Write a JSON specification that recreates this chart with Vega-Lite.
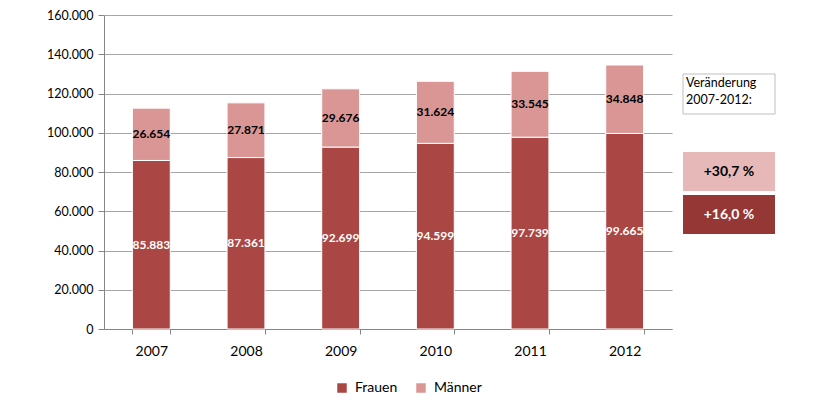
{
  "$schema": "https://vega.github.io/schema/vega-lite/v6.json",
  "padding": {"left": 46, "top": 9, "right": 5, "bottom": 5},
  "bounds": "flush",
  "spacing": 11,
  "config": {
    "locale": {"number": {"decimal": ",", "thousands": ".", "grouping": [3], "currency": ["", " €"]}},
    "view": {"stroke": null},
    "font": "Lato",
    "axis": {"labelColor": "black", "titleColor": "black"}
  },
  "hconcat": [
    {
      "width": 568,
      "height": 314,
      "data": {
        "values": [
          {"year": "2007", "gender": "Frauen", "value": 85883},
          {"year": "2007", "gender": "Männer", "value": 26654},
          {"year": "2008", "gender": "Frauen", "value": 87361},
          {"year": "2008", "gender": "Männer", "value": 27871},
          {"year": "2009", "gender": "Frauen", "value": 92699},
          {"year": "2009", "gender": "Männer", "value": 29676},
          {"year": "2010", "gender": "Frauen", "value": 94599},
          {"year": "2010", "gender": "Männer", "value": 31624},
          {"year": "2011", "gender": "Frauen", "value": 97739},
          {"year": "2011", "gender": "Männer", "value": 33545},
          {"year": "2012", "gender": "Frauen", "value": 99665},
          {"year": "2012", "gender": "Männer", "value": 34848}
        ]
      },
      "layer": [
        {
          "mark": {"type": "bar", "stroke": "white", "strokeWidth": 1},
          "encoding": {
            "x": {
              "field": "year", "type": "nominal",
              "scale": {"paddingInner": 0.6, "paddingOuter": 0.3},
              "axis": {
                "title": null, "labelAngle": 0, "tickBand": "extent",
                "domainColor": "#868686", "tickColor": "#868686", "tickSize": 5,
                "labelFontSize": 14, "labelPadding": 10, "grid": false
              }
            },
            "y": {
              "field": "value", "type": "quantitative", "stack": "zero",
              "scale": {"domain": [0, 160000]},
              "axis": {
                "title": null,
                "values": [0, 20000, 40000, 60000, 80000, 100000, 120000, 140000, 160000],
                "format": ",d", "labelOverlap": false,
                "grid": true, "gridColor": "#A6A6A6",
                "domainColor": "#868686", "tickColor": "#868686", "tickSize": 6,
                "labelPadding": 5, "labelFontSize": 12.5
              }
            },
            "order": {"field": "gender", "sort": "ascending"},
            "color": {
              "field": "gender", "type": "nominal",
              "scale": {"domain": ["Frauen", "Männer"], "range": ["#AA4643", "#D99694"]},
              "legend": {
                "title": null, "orient": "none", "legendX": 231, "legendY": 366,
                "direction": "horizontal",
                "symbolType": "square", "symbolSize": 90, "symbolStrokeWidth": 0,
                "labelFontSize": 14, "labelOffset": 6, "columnPadding": 16
              }
            }
          }
        },
        {
          "mark": {"type": "text", "fontWeight": "bold", "fontSize": 12},
          "encoding": {
            "x": {
              "field": "year", "type": "nominal",
              "axis": {
                "title": null, "labelAngle": 0, "tickBand": "extent",
                "domainColor": "#868686", "tickColor": "#868686", "tickSize": 5,
                "labelFontSize": 14, "labelPadding": 10, "grid": false
              }
            },
            "y": {
              "field": "value", "type": "quantitative", "stack": "zero", "bandPosition": 0.5,
              "axis": {
                "title": null,
                "values": [0, 20000, 40000, 60000, 80000, 100000, 120000, 140000, 160000],
                "format": ",d", "labelOverlap": false,
                "grid": true, "gridColor": "#A6A6A6",
                "domainColor": "#868686", "tickColor": "#868686", "tickSize": 6,
                "labelPadding": 5, "labelFontSize": 12.5
              }
            },
            "order": {"field": "gender", "sort": "ascending"},
            "text": {"field": "value", "type": "quantitative", "format": ",d"},
            "color": {"condition": {"test": "datum.gender === 'Frauen'", "value": "white"}, "value": "black"}
          }
        }
      ]
    },
    {
      "width": 92,
      "height": 314,
      "layer": [
        {
          "data": {"values": [{"label": "Veränderung\n2007-2012:", "lo": 109554, "hi": 129936}]},
          "layer": [
            {
              "mark": {"type": "rect", "fill": "white", "stroke": "#BFBFBF", "strokeWidth": 1},
              "encoding": {
                "y": {"field": "hi", "type": "quantitative", "scale": {"domain": [0, 160000]}, "axis": null},
                "y2": {"field": "lo"}
              }
            },
            {
              "mark": {"type": "text", "align": "left", "baseline": "top", "dx": -43, "dy": 3, "fontSize": 12.5, "lineBreak": "\n", "lineHeight": 17, "color": "black"},
              "encoding": {
                "y": {"field": "hi", "type": "quantitative", "scale": {"domain": [0, 160000]}, "axis": null},
                "text": {"field": "label"}
              }
            }
          ]
        },
        {
          "data": {"values": [{"label": "+30,7 %", "lo": 70318, "hi": 90191}]},
          "layer": [
            {
              "mark": {"type": "rect", "fill": "#E6B9B8"},
              "encoding": {
                "y": {"field": "hi", "type": "quantitative", "scale": {"domain": [0, 160000]}, "axis": null},
                "y2": {"field": "lo"}
              }
            },
            {
              "mark": {"type": "text", "baseline": "middle", "dy": 19.5, "fontSize": 14, "fontWeight": "bold", "color": "black"},
              "encoding": {
                "y": {"field": "hi", "type": "quantitative", "scale": {"domain": [0, 160000]}, "axis": null},
                "text": {"field": "label"}
              }
            }
          ]
        },
        {
          "data": {"values": [{"label": "+16,0 %", "lo": 48408, "hi": 68280}]},
          "layer": [
            {
              "mark": {"type": "rect", "fill": "#953735"},
              "encoding": {
                "y": {"field": "hi", "type": "quantitative", "scale": {"domain": [0, 160000]}, "axis": null},
                "y2": {"field": "lo"}
              }
            },
            {
              "mark": {"type": "text", "baseline": "middle", "dy": 19.5, "fontSize": 14, "fontWeight": "bold", "color": "white"},
              "encoding": {
                "y": {"field": "hi", "type": "quantitative", "scale": {"domain": [0, 160000]}, "axis": null},
                "text": {"field": "label"}
              }
            }
          ]
        }
      ]
    }
  ]
}
